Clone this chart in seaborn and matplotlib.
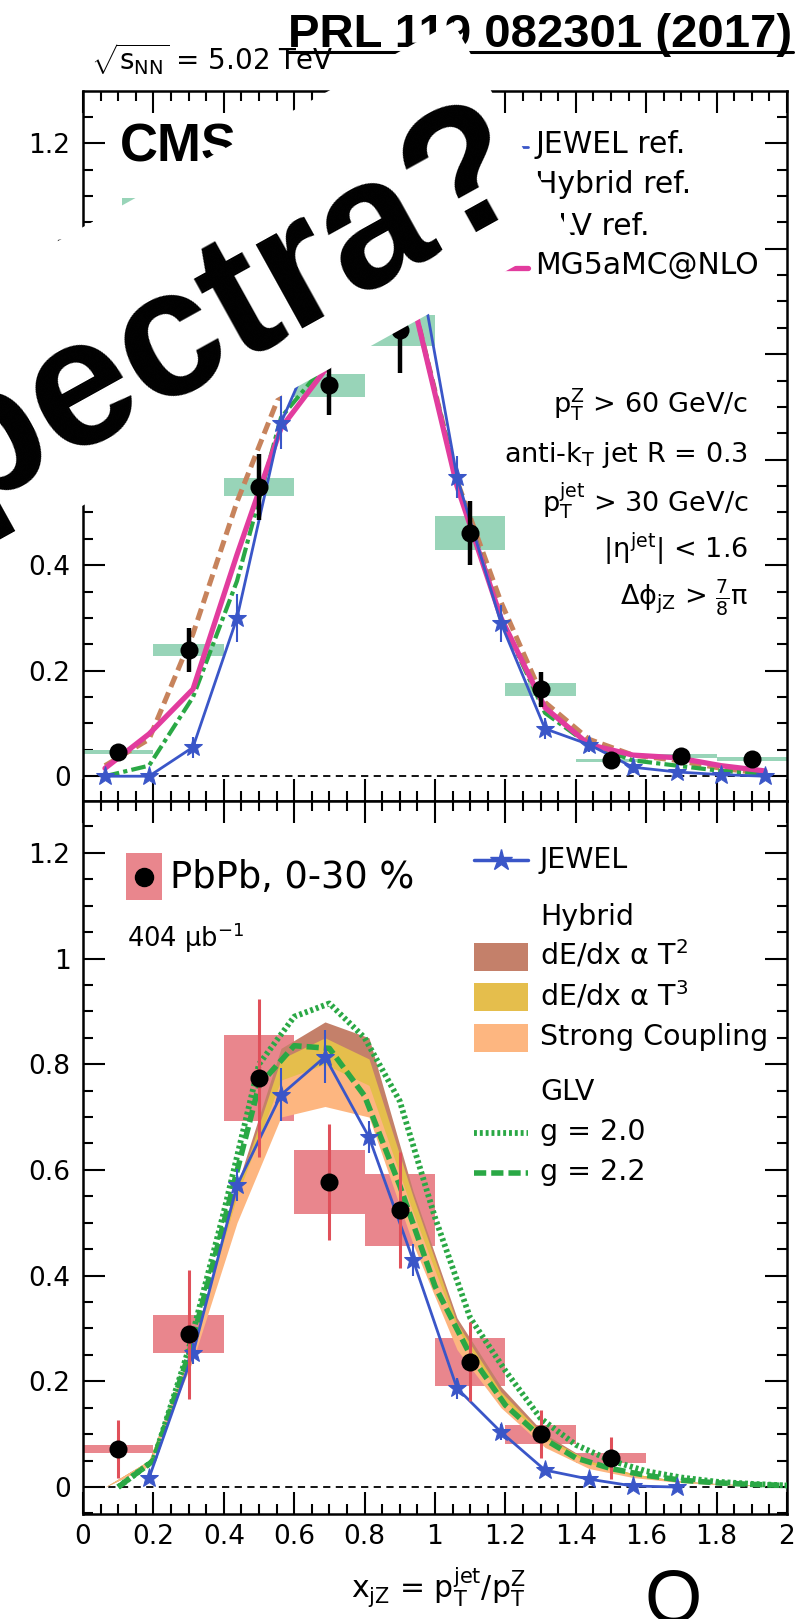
import numpy as np
import pandas as pd
import matplotlib
matplotlib.use("Agg")
import matplotlib.pyplot as plt
import seaborn as sns
from matplotlib.patches import Polygon, Rectangle
from matplotlib.lines import Line2D
from matplotlib.ticker import MultipleLocator, FuncFormatter

# ---------------- data ----------------
# pp (smeared) reference, top panel
pp_x = [0.1, 0.3, 0.5, 0.7, 0.9, 1.1, 1.3, 1.5, 1.7, 1.9]
pp_y = [0.046, 0.239, 0.548, 0.741, 0.845, 0.461, 0.165, 0.030, 0.038, 0.032]
pp_stat = [0.008, 0.042, 0.062, 0.057, 0.080, 0.060, 0.033, 0.008, 0.008, 0.008]
pp_sys = [0.004, 0.011, 0.017, 0.022, 0.030, 0.032, 0.012, 0.003, 0.004, 0.004]

# model grid (bin centres)
grid = [0.0625, 0.1875, 0.3125, 0.4375, 0.5625, 0.6875, 0.8125, 0.9375,
        1.0625, 1.1875, 1.3125, 1.4375, 1.5625, 1.6875, 1.8125, 1.9375]
jewel_ref = [0.0, 0.0, 0.055, 0.30, 0.67, 0.86, 0.97, 1.03,
             0.567, 0.29, 0.09, 0.06, 0.017, 0.008, 0.003, 0.0]
jewel_ref_err = [0.005, 0.005, 0.02, 0.045, 0.05, 0.05, 0.05, 0.05,
                 0.04, 0.035, 0.02, 0.015, 0.01, 0.005, 0.005, 0.005]
hybrid_ref = [0.02, 0.07, 0.27, 0.52, 0.73, 0.80, 0.87, 0.90,
              0.56, 0.33, 0.14, 0.07, 0.04, 0.03, 0.015, 0.005]
glv_ref = [0.0, 0.02, 0.15, 0.37, 0.68, 0.78, 0.86, 0.90,
           0.56, 0.30, 0.12, 0.06, 0.03, 0.02, 0.01, 0.005]
mg5 = [0.015, 0.08, 0.165, 0.42, 0.66, 0.77, 0.85, 0.90,
       0.55, 0.30, 0.13, 0.06, 0.04, 0.035, 0.02, 0.01]

# PbPb 0-30 %, bottom panel
pb_x = [0.1, 0.3, 0.5, 0.7, 0.9, 1.1, 1.3, 1.5]
pb_y = [0.072, 0.289, 0.774, 0.577, 0.524, 0.237, 0.100, 0.055]
pb_stat = [0.055, 0.122, 0.150, 0.110, 0.110, 0.075, 0.045, 0.040]
pb_sys = [0.008, 0.036, 0.081, 0.061, 0.068, 0.045, 0.018, 0.010]

jewel_x = grid[1:14]
jewel = [0.017, 0.253, 0.571, 0.742, 0.814, 0.662, 0.43, 0.187, 0.104,
         0.032, 0.015, 0.002, 0.0]
jewel_err = [0.01, 0.02, 0.03, 0.05, 0.05, 0.03, 0.03, 0.02, 0.015,
             0.01, 0.01, 0.005, 0.005]

t2_lo = [0.0, 0.04, 0.25, 0.54, 0.77, 0.80, 0.78, 0.50, 0.27, 0.16, 0.08, 0.04, 0.02, 0.01, 0.005, 0.002]
t2_hi = [0.0, 0.05, 0.27, 0.57, 0.83, 0.88, 0.85, 0.56, 0.32, 0.19, 0.10, 0.05, 0.025, 0.012, 0.006, 0.003]
t3_lo = [0.0, 0.04, 0.25, 0.53, 0.74, 0.77, 0.74, 0.49, 0.27, 0.155, 0.08, 0.04, 0.02, 0.01, 0.005, 0.002]
t3_hi = [0.0, 0.05, 0.27, 0.56, 0.81, 0.85, 0.81, 0.55, 0.31, 0.18, 0.095, 0.05, 0.025, 0.012, 0.006, 0.003]
sc_lo = [0.0, 0.04, 0.24, 0.50, 0.70, 0.72, 0.70, 0.46, 0.26, 0.15, 0.075, 0.035, 0.018, 0.009, 0.004, 0.002]
sc_hi = [0.0, 0.05, 0.27, 0.55, 0.77, 0.80, 0.76, 0.52, 0.30, 0.17, 0.09, 0.045, 0.022, 0.011, 0.005, 0.002]

glv_x = [0.1, 0.2, 0.3, 0.4, 0.5, 0.6, 0.7, 0.8, 0.9, 1.0,
         1.1, 1.2, 1.3, 1.4, 1.5, 1.6, 1.7, 1.8, 1.9, 2.0]
glv_g20 = [0.0, 0.05, 0.26, 0.52, 0.80, 0.89, 0.915, 0.85, 0.73, 0.51,
           0.32, 0.22, 0.13, 0.08, 0.05, 0.03, 0.018, 0.01, 0.006, 0.003]
glv_g22 = [0.0, 0.05, 0.25, 0.50, 0.76, 0.835, 0.83, 0.74, 0.57, 0.38,
           0.25, 0.155, 0.095, 0.055, 0.035, 0.022, 0.013, 0.008, 0.005, 0.003]

xticks = [0, 0.2, 0.4, 0.6, 0.8, 1.0, 1.2, 1.4, 1.6, 1.8, 2.0]

# ---------------- style ----------------
sns.set_theme(style="ticks")
plt.rcParams["font.family"] = ["DejaVu Sans"]
plt.rcParams["mathtext.fontset"] = "custom"
plt.rcParams["mathtext.rm"] = "DejaVu Sans"
plt.rcParams["mathtext.it"] = "DejaVu Sans"
plt.rcParams["mathtext.bf"] = "DejaVu Sans:bold"
plt.rcParams["text.color"] = "black"
plt.rcParams["xtick.color"] = "black"
plt.rcParams["ytick.color"] = "black"
plt.rcParams["axes.edgecolor"] = "black"

C_PPBOX = "#98d4b8"
C_PBBOX = "#e9868d"
C_RED = "#e0505a"
C_BLUE = "#3a56c8"
C_PINK = "#e23c9e"
C_BROWN = "#c7835c"
C_GREEN = "#2aa845"
C_T2 = "#c4806a"
C_T3 = "#e5be4c"
C_SC = "#fdb680"

W, H = 802, 1619
fig = plt.figure(figsize=(W / 100, H / 100), dpi=100)
fig.patch.set_facecolor("white")


def fx(px):
    return px / W


def fy(py):
    return 1 - py / H


L, R = 83, 787
ax1 = fig.add_axes([fx(L), fy(801), fx(R) - fx(L), fy(91) - fy(801)])
ax2 = fig.add_axes([fx(L), fy(1514), fx(R) - fx(L), fy(801) - fy(1514)])


def a1(px, py):
    return ((px - 83) / 704, (801 - py) / 710)


def a2(px, py):
    return ((px - 83) / 704, (1514 - py) / 713)


def fmt(v, p):
    v = round(v, 3)
    if abs(v) < 1e-9:
        return "0"
    return f"{v:g}"


def style(ax, ylim):
    ax.set_xlim(0, 2)
    ax.set_ylim(*ylim)
    ax.set_facecolor("white")
    ax.set_xticks(xticks)
    ax.xaxis.set_minor_locator(MultipleLocator(0.05))
    ax.yaxis.set_major_locator(MultipleLocator(0.2))
    ax.yaxis.set_minor_locator(MultipleLocator(0.05))
    ax.xaxis.set_major_formatter(FuncFormatter(fmt))
    ax.yaxis.set_major_formatter(FuncFormatter(fmt))
    ax.tick_params(which="both", direction="in", top=True, right=True,
                   width=1.5, color="black", labelcolor="black")
    ax.tick_params(which="major", length=16)
    ax.tick_params(which="minor", length=7.5)
    ax.tick_params(axis="x", labelsize=19, pad=7)
    ax.tick_params(axis="y", labelsize=19, pad=9)
    for s in ax.spines.values():
        s.set_linewidth(1.8)
        s.set_color("black")
    ax.axhline(0, color="black", ls=(0, (4, 3)), lw=1.3, zorder=1)
    ax.set_xlabel("")
    ax.set_ylabel("")


# ---------------- top panel ----------------
pp_lo = [y - s for y, s in zip(pp_y, pp_sys)]
ax1.bar(pp_x, [2 * s for s in pp_sys], bottom=pp_lo, width=0.2,
        color=C_PPBOX, lw=0, zorder=1)
sns.lineplot(x=grid, y=hybrid_ref, ax=ax1, color=C_BROWN, lw=3.6,
             linestyle=(0, (2.4, 1.2)), zorder=3)
sns.lineplot(x=grid, y=glv_ref, ax=ax1, color=C_GREEN, lw=3.0,
             linestyle=(0, (3.5, 1, 1, 1)), zorder=3)
sns.lineplot(x=grid, y=mg5, ax=ax1, color=C_PINK, lw=3.8, zorder=3)
ax1.errorbar(grid, jewel_ref, yerr=jewel_ref_err, fmt="none", ecolor=C_BLUE,
             elinewidth=1.5, zorder=4)
sns.lineplot(x=grid, y=jewel_ref, ax=ax1, color=C_BLUE, lw=2.0, marker="*",
             markersize=14, markeredgecolor=C_BLUE, markerfacecolor=C_BLUE,
             zorder=4)
ax1.errorbar(pp_x, pp_y, yerr=pp_stat, fmt="none", ecolor="black",
             elinewidth=3.2, zorder=5)
sns.scatterplot(x=pp_x, y=pp_y, ax=ax1, color="black", s=169,
                edgecolor="black", linewidth=0, zorder=6)
style(ax1, (-0.047, 1.299))
ax1.tick_params(labelbottom=False)

# CMS label and (mostly hidden) pp legend patch
ax1.text(*a1(120, 162), "CMS", transform=ax1.transAxes, fontsize=38,
         fontweight="bold", family="Liberation Sans", va="baseline", ha="left",
         color="black")
x0, y0 = a1(122, 250)
x1, y1 = a1(160, 198)
ax1.add_patch(Rectangle((x0, y0), x1 - x0, y1 - y0, transform=ax1.transAxes,
                        color=C_PPBOX, lw=0, zorder=2))

# right legend (top panel)
leg_top = [("JEWEL ref.", 153), ("Hybrid ref.", 193), ("GLV ref.", 235),
           ("MG5aMC@NLO", 274)]
for lab, yb in leg_top:
    ax1.text(*a1(535, yb), lab, transform=ax1.transAxes, fontsize=21.5,
             va="baseline", ha="left")
handles = [
    dict(color=C_BLUE, lw=2.0),
    dict(color=C_BROWN, lw=3.6, ls=(0, (2.4, 1.2))),
    dict(color=C_GREEN, lw=3.0, ls=(0, (3.5, 1, 1, 1))),
    dict(color=C_PINK, lw=3.8),
]
for i, ((lab, yb), hk) in enumerate(zip(leg_top, handles)):
    xa, ya = a1(480, yb - 6)
    xb, _ = a1(528, yb - 6)
    ax1.add_line(Line2D([xa, xb], [ya, ya], transform=ax1.transAxes,
                        clip_on=False, **hk))
    if i == 0:
        ax1.add_line(Line2D([(xa + xb) / 2], [ya], transform=ax1.transAxes,
                            marker="*", ms=14, color=C_BLUE, ls="none"))

# cut annotations (top panel)
ann = [(r"p$_{T}^{Z}$ > 60 GeV/c", 413),
       (r"anti-k$_{T}$ jet R = 0.3", 462),
       (r"p$_{T}^{jet}$ > 30 GeV/c", 512),
       (r"|$\eta^{jet}$| < 1.6", 558),
       (r"$\Delta\phi_{jZ}$ > $\frac{7}{8}\pi$", 605)]
for t, yb in ann:
    ax1.text(*a1(748, yb), t, transform=ax1.transAxes, fontsize=19.5,
             ha="right", va="baseline")

# ---------------- bottom panel ----------------
pb_lo = [y - s for y, s in zip(pb_y, pb_sys)]
ax2.bar(pb_x, [2 * s for s in pb_sys], bottom=pb_lo, width=0.2,
        color=C_PBBOX, lw=0, zorder=1)
ax2.fill_between(grid, t2_lo, t2_hi, color=C_T2, lw=0, zorder=2)
ax2.fill_between(grid, t3_lo, t3_hi, color=C_T3, lw=0, zorder=2)
ax2.fill_between(grid, sc_lo, sc_hi, color=C_SC, lw=0, zorder=2)
sns.lineplot(x=glv_x, y=glv_g22, ax=ax2, color=C_GREEN, lw=4.0,
             linestyle=(0, (2.2, 0.9)), zorder=3)
sns.lineplot(x=glv_x, y=glv_g20, ax=ax2, color=C_GREEN, lw=4.2,
             linestyle=(0, (0.5, 0.5)), zorder=3)
ax2.errorbar(jewel_x, jewel, yerr=jewel_err, fmt="none", ecolor=C_BLUE,
             elinewidth=1.5, zorder=4)
sns.lineplot(x=jewel_x, y=jewel, ax=ax2, color=C_BLUE, lw=2.0, marker="*",
             markersize=14, markeredgecolor=C_BLUE, markerfacecolor=C_BLUE,
             zorder=4)
ax2.errorbar(pb_x, pb_y, yerr=pb_stat, fmt="none", ecolor=C_RED,
             elinewidth=2.2, zorder=5)
sns.scatterplot(x=pb_x, y=pb_y, ax=ax2, color="black", s=169,
                edgecolor="black", linewidth=0, zorder=6)
style(ax2, (-0.051, 1.298))

# PbPb legend
x0, y0 = a2(126, 900)
x1, y1 = a2(162, 853)
ax2.add_patch(Rectangle((x0, y0), x1 - x0, y1 - y0, transform=ax2.transAxes,
                        color=C_PBBOX, lw=0, zorder=2))
ax2.add_line(Line2D([a2(144, 877)[0]], [a2(144, 877)[1]], transform=ax2.transAxes,
                    marker="o", ms=13, color="black", ls="none", zorder=3))
ax2.text(*a2(170, 888), "PbPb, 0-30 %", transform=ax2.transAxes, fontsize=26.5,
         va="baseline")
ax2.text(*a2(127, 947), r"404 μb$^{-1}$", transform=ax2.transAxes, fontsize=18.5,
         va="baseline")


# right legend (bottom panel)
def leg_text(t, yb):
    ax2.text(*a2(540, yb), t, transform=ax2.transAxes, fontsize=20.5,
             va="baseline", ha="left")


xa, _ = a2(474, 0)
xb, _ = a2(528, 0)
_, yj = a2(0, 860)
ax2.add_line(Line2D([xa, xb], [yj, yj], transform=ax2.transAxes, color=C_BLUE,
                    lw=2.5))
ax2.add_line(Line2D([(xa + xb) / 2], [yj], transform=ax2.transAxes, color=C_BLUE,
                    marker="*", ms=16, ls="none"))
leg_text("JEWEL", 868)
leg_text("Hybrid", 925)
for col, top, bot, lab, yb in [(C_T2, 943, 971, r"dE/dx α T$^{2}$", 964),
                               (C_T3, 983, 1011, r"dE/dx α T$^{3}$", 1005),
                               (C_SC, 1024, 1052, "Strong Coupling", 1045)]:
    px0, py0 = a2(474, bot)
    px1, py1 = a2(528, top)
    ax2.add_patch(Rectangle((px0, py0), px1 - px0, py1 - py0,
                            transform=ax2.transAxes, color=col, lw=0))
    leg_text(lab, yb)
leg_text("GLV", 1100)
_, yg0 = a2(0, 1133)
_, yg1 = a2(0, 1173)
ax2.add_line(Line2D([xa, xb], [yg0, yg0], transform=ax2.transAxes, color=C_GREEN,
                    lw=4.2, ls=(0, (0.5, 0.5))))
ax2.add_line(Line2D([xa, xb], [yg1, yg1], transform=ax2.transAxes, color=C_GREEN,
                    lw=4.0, ls=(0, (2.2, 0.9))))
leg_text("g = 2.0", 1140)
leg_text("g = 2.2", 1180)

# ---------------- figure-level text ----------------
fig.text(fx(91), fy(70), r"$\sqrt{s_{NN}}$ = 5.02 TeV", fontsize=20,
         va="baseline", ha="left")
fig.text(fx(438), fy(1598), r"x$_{jZ}$ = p$_{T}^{jet}$/p$_{T}^{Z}$", fontsize=21.5,
         va="baseline", ha="center")

fig.text(fx(288), fy(47), "PRL 119 082301 (2017)", family="Liberation Sans",
         fontweight="bold", fontsize=34, va="baseline", ha="left", zorder=5)
fig.add_artist(Line2D([fx(288), fx(793)], [fy(52), fy(52)], transform=fig.transFigure,
                      color="black", lw=2.2, zorder=5))

# overlay white box with rotated question
ang = np.deg2rad(29)
tr = (453, 22)
br = (571, 235)
d = (-1000 * np.cos(ang), 1000 * np.sin(ang))
corners = [tr, br, (br[0] + d[0], br[1] + d[1]), (tr[0] + d[0], tr[1] + d[1])]
fig.add_artist(Polygon([(fx(px), fy(py)) for px, py in corners], closed=True,
                       transform=fig.transFigure, facecolor="white",
                       edgecolor="none", zorder=20))
fig.text(fx(540), fy(194), "Spectra?", family="Liberation Sans", fontweight="bold",
         fontsize=131, rotation=29, rotation_mode="anchor", ha="right",
         va="baseline", color="black", zorder=21)

fig.text(fx(673), fy(1622), "Q", family="Liberation Sans", fontsize=53,
         ha="center", va="baseline", color="black", zorder=21)

fig.savefig("out.png", dpi=100, facecolor="white")
